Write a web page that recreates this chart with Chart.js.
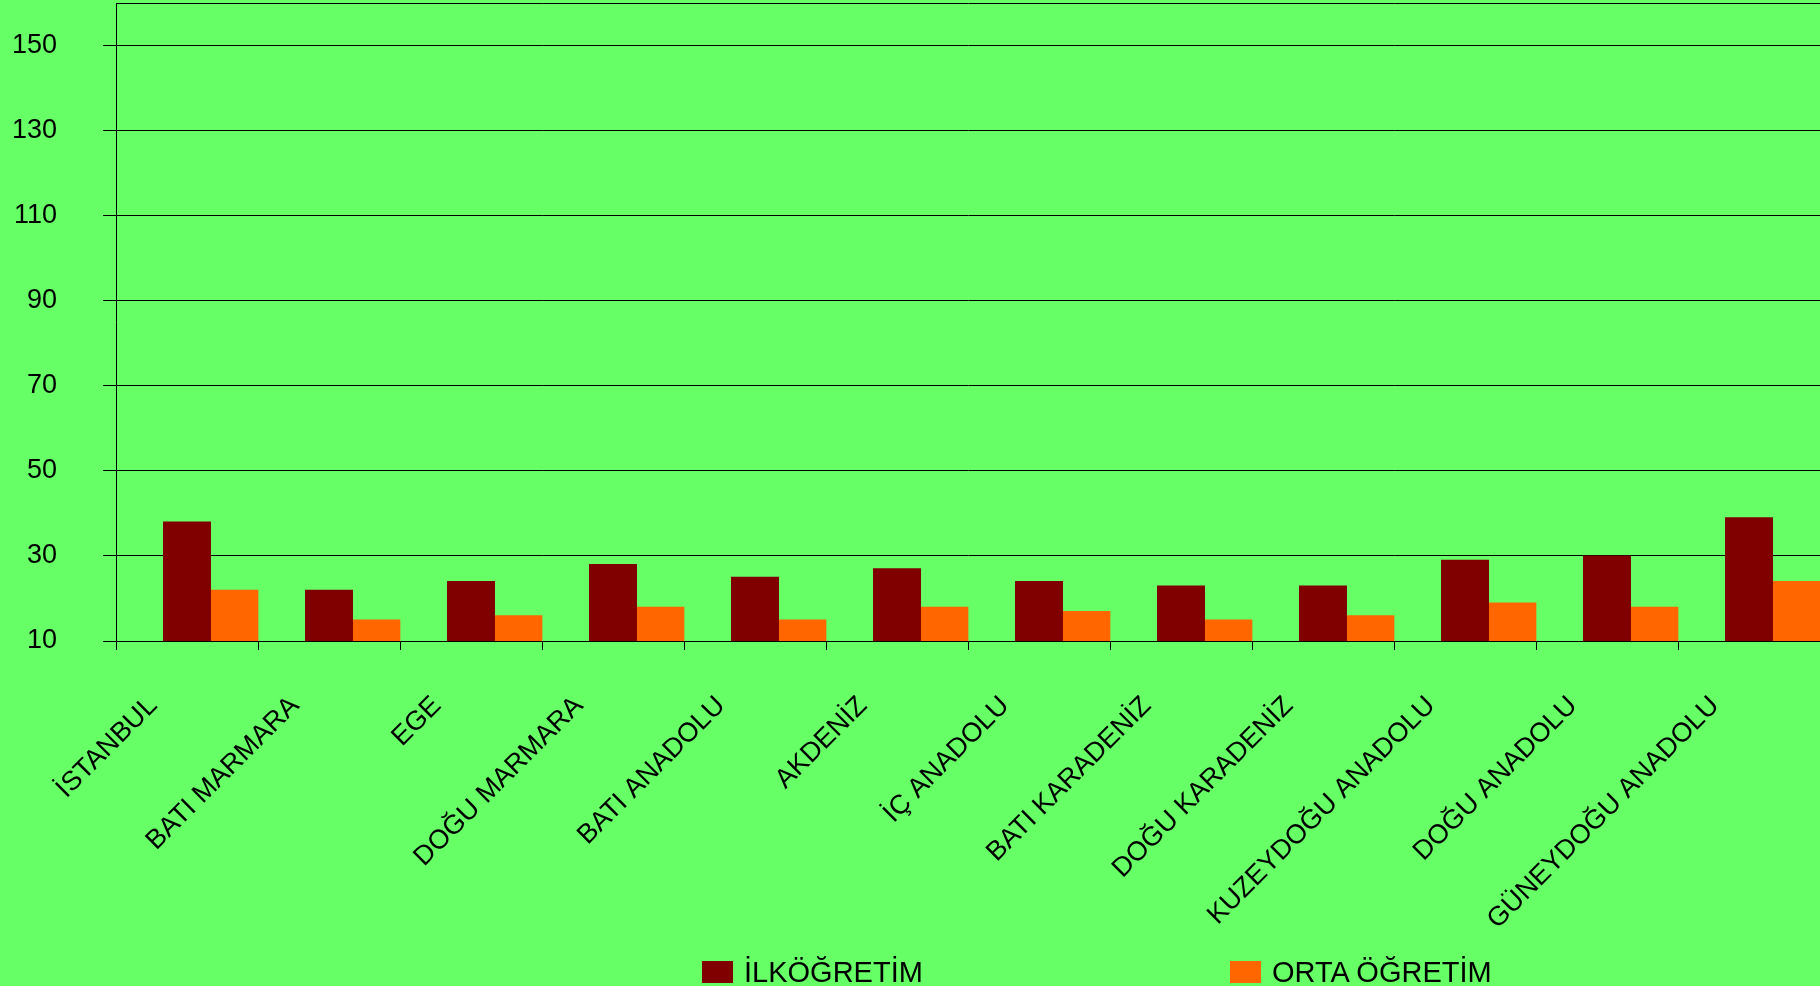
<!DOCTYPE html>
<html>
<head>
<meta charset="utf-8">
<script src="https://cdn.jsdelivr.net/npm/chart.js@4.4.1/dist/chart.umd.min.js"></script>
<style>
  html, body { margin: 0; padding: 0; background: #66ff66; overflow: hidden; }
  #wrap { position: relative; width: 1820px; height: 986px; }
  #chart { position: absolute; left: 0; top: 0; }
  .item { position: absolute; top: 958px; height: 29px; font: 29px "Liberation Sans", Arial, sans-serif; line-height: 29px; color: #000; white-space: nowrap; }
  .item i { position: absolute; left: 0; top: 3px; width: 31px; height: 22px; }
  .item span { position: absolute; left: 42px; top: 0; }
</style>
</head>
<body>
<div id="wrap">
  <canvas id="chart" width="1820" height="986"></canvas>
  <div id="legend"></div>
</div>
<script>
const regions = ['İSTANBUL', 'BATI MARMARA', 'EGE', 'DOĞU MARMARA', 'BATI ANADOLU', 'AKDENİZ',
  'İÇ ANADOLU', 'BATI KARADENİZ', 'DOĞU KARADENİZ', 'KUZEYDOĞU ANADOLU', 'DOĞU ANADOLU', 'GÜNEYDOĞU ANADOLU'];
const ilkogretim = [38, 22, 24, 28, 25, 27, 24, 23, 23, 29, 30, 39];
const ortaOgretim = [22, 15, 16, 18, 15, 18, 17, 15, 16, 19, 18, 24];
const yTicks = [10, 30, 50, 70, 90, 110, 130, 150, 160];

const axisFont = { family: '"Liberation Sans", Arial, sans-serif', size: 27 };

const series = [
  { label: 'İLKÖĞRETİM', data: ilkogretim, color: '#800000', left: 702 },
  { label: 'ORTA ÖĞRETİM', data: ortaOgretim, color: '#ff6600', left: 1230 }
];

new Chart(document.getElementById('chart'), {
  type: 'bar',
  data: {
    labels: regions,
    datasets: [
      // empty slot: the original pushes each pair to the right side of its category
      { label: '', data: [], backgroundColor: 'transparent' },
      ...series.map(s => ({ label: s.label, data: s.data, backgroundColor: s.color }))
    ]
  },
  options: {
    responsive: false,
    animation: false,
    layout: { padding: { top: 3, right: 0, bottom: 0, left: 0 } },
    datasets: { bar: { categoryPercentage: 1, barPercentage: 1 } },
    plugins: { legend: { display: false }, tooltip: { enabled: false } },
    scales: {
      x: {
        grid: { offset: true, drawOnChartArea: false, color: '#000', tickLength: 9 },
        border: { color: '#000', width: 1 },
        ticks: { autoSkip: false, maxRotation: 45, minRotation: 45, color: '#000', font: axisFont, padding: 40, labelOffset: -34 },
        afterFit: s => { s.height = 345; s.paddingLeft = 0; s.paddingRight = 0; }
      },
      y: {
        min: 10,
        max: 160,
        afterBuildTicks: s => { s.ticks = yTicks.map(v => ({ value: v })); },
        grid: {
          color: '#000',
          tickLength: 13,
          tickColor: c => (c.tick && c.tick.value === 160 ? 'transparent' : '#000')
        },
        border: { color: '#000', width: 1 },
        ticks: { color: '#000', font: axisFont, padding: 46, callback: v => (v === 160 ? '' : v) },
        afterFit: s => { s.width = 116; s.paddingTop = 0; s.paddingBottom = 0; }
      }
    }
  }
});

const legend = document.getElementById('legend');
series.forEach(s => {
  const el = document.createElement('div');
  el.className = 'item';
  el.style.left = s.left + 'px';
  el.innerHTML = '<i style="background:' + s.color + '"></i><span>' + s.label + '</span>';
  legend.appendChild(el);
});
</script>
</body>
</html>
